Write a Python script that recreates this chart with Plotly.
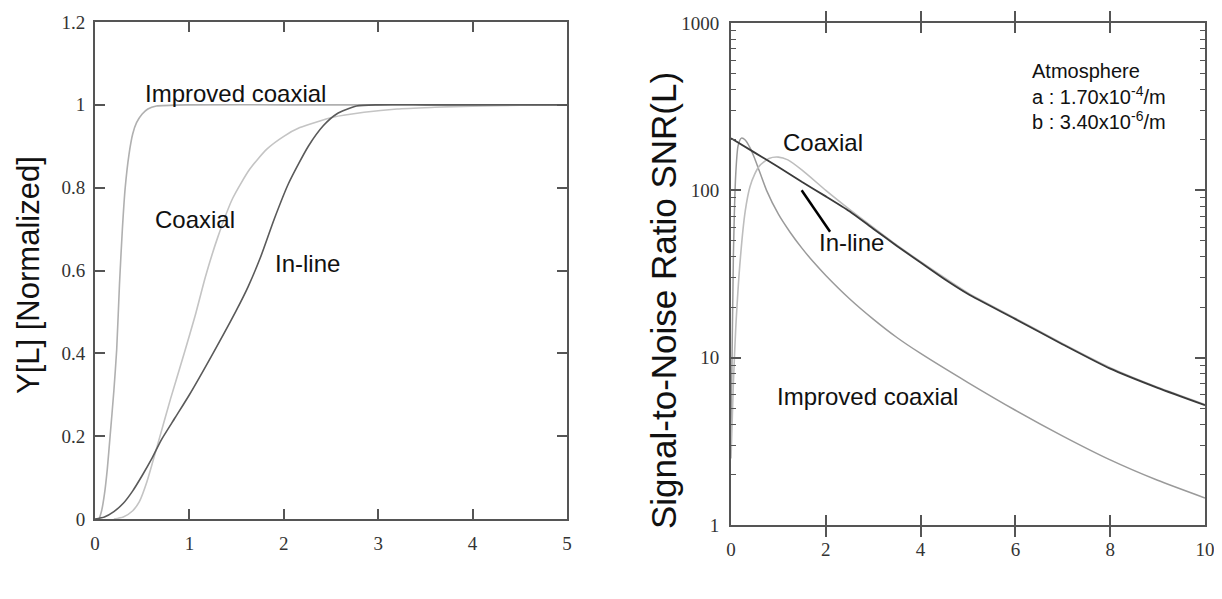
import numpy as np
import plotly.graph_objects as go

# ---------------- Left panel: Y[L] normalized ----------------
imp_x_left = [0, 0.04, 0.07, 0.1, 0.13, 0.16, 0.2, 0.23, 0.26, 0.29, 0.32, 0.36, 0.4, 0.44, 0.5, 0.56, 0.65, 1.0, 2.0, 3.0, 4.0, 5.0]
imp_y_left = [0, 0.0, 0.02, 0.06, 0.12, 0.2, 0.31, 0.41, 0.57, 0.7, 0.8, 0.88, 0.93, 0.957, 0.978, 0.99, 0.997, 1.0, 1.0, 1.0, 1.0, 1.0]

coax_x_left = [0.2, 0.3, 0.4, 0.47, 0.55, 0.67, 0.8, 0.945, 1.06, 1.17, 1.3, 1.46, 1.64, 1.82, 2.0, 2.17, 2.52, 2.85, 3.2, 3.6, 4.0, 4.5, 5.0]
coax_y_left = [0, 0.005, 0.02, 0.042, 0.09, 0.185, 0.29, 0.4, 0.49, 0.585, 0.68, 0.775, 0.845, 0.893, 0.924, 0.945, 0.97, 0.982, 0.99, 0.994, 0.997, 0.999, 1.0]

inl_x_left = [0, 0.1, 0.2, 0.3, 0.4, 0.5, 0.6, 0.7, 0.85, 1.0, 1.25, 1.5, 1.62, 1.75, 1.9, 2.05, 2.26, 2.42, 2.56, 2.77, 3.0, 3.5, 4.0, 5.0]
inl_y_left = [0, 0.005, 0.018, 0.038, 0.068, 0.105, 0.145, 0.19, 0.245, 0.3, 0.4, 0.505, 0.56, 0.63, 0.725, 0.81, 0.9, 0.95, 0.978, 0.997, 1.0, 1.0, 1.0, 1.0]

# ---------------- Right panel: SNR(L) ----------------
inl_x_right = [0, 0.5, 1.0, 1.5, 2.0, 2.5, 3.0, 3.5, 4.0, 4.5, 5.0, 6.0, 7.0, 8.0, 9.0, 10.0]
inl_y_right = [205, 168, 138, 112, 92, 75, 59, 46.5, 37, 29.5, 24, 17, 12, 8.6, 6.6, 5.2]

coax_x_right = [0.0, 0.05, 0.1, 0.2, 0.3, 0.4, 0.5, 0.6, 0.8, 1.0, 1.2, 1.5, 2.0, 2.5, 3.0, 3.5, 4.0, 5.0, 6.0, 7.0, 8.0, 9.0, 10.0]
coax_y_right = [2.5, 7, 15, 40, 75, 105, 125, 140, 155, 158, 152, 132, 100, 77, 60, 47, 37.5, 24.4, 17.2, 12.1, 8.7, 6.65, 5.25]

imp_x_right = [0.0, 0.05, 0.1, 0.15, 0.22, 0.3, 0.4, 0.5, 0.6, 0.75, 1.0, 1.25, 1.5, 1.75, 2.0, 2.5, 3.0, 3.5, 4.0, 5.0, 6.0, 7.0, 8.0, 9.0, 10.0]
imp_y_right = [3.5, 40, 125, 185, 205, 200, 180, 155, 130, 100, 72, 56, 45, 37, 31, 22.5, 17, 13.2, 10.6, 7.1, 4.85, 3.4, 2.45, 1.85, 1.45]

pointer_x = [1.49, 2.09]
pointer_y = [100, 56.5]

left_yticks = [0, 0.2, 0.4, 0.6, 0.8, 1.0, 1.2]
left_yticktext = ["0", "0.2", "0.4", "0.6", "0.8", "1", "1.2"]
left_xticks = [0, 1, 2, 3, 4, 5]
right_xticks = [0, 2, 4, 6, 8, 10]
right_yticks = [1, 10, 100, 1000]
right_yticktext = ["1", "10", "100", "1000"]

# page geometry helpers (screen pixel -> paper fraction); the page body adds an 8px offset
OFF = 8
W, H = 1222 - OFF, 599 - OFF
ML, MR, MT, MB = 50, 4, 6, 50
def fx(px):
    return (px - OFF - ML) / (W - ML - MR)
def fy(py):
    return (H - MB - (py - OFF)) / (H - MT - MB)

fig = go.Figure()

def add(x, y, color, width, xa, ya):
    fig.add_trace(go.Scatter(x=x, y=y, mode="lines", xaxis=xa, yaxis=ya,
                             line=dict(color=color, width=width, shape="spline", smoothing=0.6),
                             showlegend=False, hoverinfo="skip"))

add(imp_x_left, imp_y_left, "#b0b0b0", 1.6, "x", "y")
add(coax_x_left, coax_y_left, "#c4c4c4", 1.6, "x", "y")
add(inl_x_left, inl_y_left, "#5a5a5a", 1.6, "x", "y")

add(imp_x_right, imp_y_right, "#9a9a9a", 1.5, "x2", "y2")
add(coax_x_right, coax_y_right, "#bdbdbd", 1.6, "x2", "y2")
add(inl_x_right, inl_y_right, "#3a3a3a", 1.8, "x2", "y2")

fig.add_trace(go.Scatter(x=pointer_x, y=pointer_y, mode="lines", xaxis="x2", yaxis="y2",
                         line=dict(color="black", width=2.5), showlegend=False, hoverinfo="skip"))

tickfont = dict(family="Liberation Serif, Times New Roman, serif", size=19, color="#333")
axcommon = dict(showline=True, linecolor="#555", linewidth=2, mirror="allticks",
                ticks="inside", ticklen=10, tickwidth=1.5, tickcolor="#555",
                showgrid=False, zeroline=False, tickfont=tickfont, automargin=False)

fig.update_layout(
    width=W, height=H,
    margin=dict(l=ML, r=MR, t=MT, b=MB),
    showlegend=False,
    paper_bgcolor="white", plot_bgcolor="white",
    xaxis=dict(domain=[fx(95), fx(567)], range=[0, 5], tickvals=left_xticks,
               anchor="y", ticklabelstandoff=6, **axcommon),
    yaxis=dict(domain=[fy(519), fy(22)], range=[0, 1.2], tickvals=left_yticks,
               ticktext=left_yticktext, anchor="x", ticklabelstandoff=4, **axcommon),
    xaxis2=dict(domain=[fx(731), fx(1205)], range=[0, 10], tickvals=right_xticks,
                anchor="y2", ticklabelstandoff=6, **axcommon),
    yaxis2=dict(domain=[fy(525), fy(23)], type="log", range=[0, 3], tickvals=right_yticks,
                ticktext=right_yticktext, anchor="x2", ticklabelstandoff=6,
                minor=dict(ticks="inside", ticklen=5, tickcolor="#555", tickwidth=1.2, dtick="D1", showgrid=False),
                **axcommon),
    yaxis3=dict(domain=[fy(525), fy(23)], type="log", range=[0, 3], overlaying="y2", anchor="x2",
                side="right", showline=False, showgrid=False, zeroline=False, showticklabels=False,
                ticks="inside", ticklen=10, tickwidth=1.5, tickcolor="#555", tickvals=right_yticks,
                minor=dict(ticks="inside", ticklen=5, tickcolor="#555", tickwidth=1.2, dtick="D1", showgrid=False),
                automargin=False),
)
# invisible trace to activate the right-side tick axis
fig.add_trace(go.Scatter(x=[0], y=[1], xaxis="x2", yaxis="y3", mode="markers",
                         marker=dict(opacity=0), showlegend=False, hoverinfo="skip"))

ann_font = dict(family="Liberation Sans, Arial, sans-serif", size=24, color="#111")
small_font = dict(family="Liberation Sans, Arial, sans-serif", size=20, color="#111")

annots = [
    dict(text="Improved coaxial", x=0.508, y=1.028, xref="x", yref="y", font=ann_font),
    dict(text="Coaxial", x=0.618, y=0.722, xref="x", yref="y", font=ann_font),
    dict(text="In-line", x=1.889, y=0.616, xref="x", yref="y", font=ann_font),
    dict(text="Coaxial", x=1.05, y=np.log10(192), xref="x2", yref="y2", font=ann_font),
    dict(text="In-line", x=1.81, y=np.log10(48.8), xref="x2", yref="y2", font=ann_font),
    dict(text="Improved coaxial", x=0.93, y=np.log10(5.86), xref="x2", yref="y2", font=ann_font),
    dict(text="Atmosphere", x=6.31, y=np.log10(514), xref="x2", yref="y2", font=small_font),
    dict(text="a : 1.70x10<sup>-4</sup>/m", x=6.31, y=np.log10(367), xref="x2", yref="y2", font=small_font),
    dict(text="b : 3.40x10<sup>-6</sup>/m", x=6.31, y=np.log10(260), xref="x2", yref="y2", font=small_font),
]
for a in annots:
    fig.add_annotation(showarrow=False, xanchor="left", yanchor="middle", **a)

# axis titles
fig.add_annotation(text="Y[L] [Normalized]", x=fx(28), y=fy(275), xref="paper", yref="paper",
                   textangle=-90, showarrow=False, xanchor="center", yanchor="middle",
                   font=dict(family="Liberation Sans, Arial, sans-serif", size=31, color="#111"))
fig.add_annotation(text="Signal-to-Noise Ratio SNR(L)", x=fx(663), y=fy(301), xref="paper", yref="paper",
                   textangle=-90, showarrow=False, xanchor="center", yanchor="middle",
                   font=dict(family="Liberation Sans, Arial, sans-serif", size=35, color="#111"))

fig.write_html("out.html")
